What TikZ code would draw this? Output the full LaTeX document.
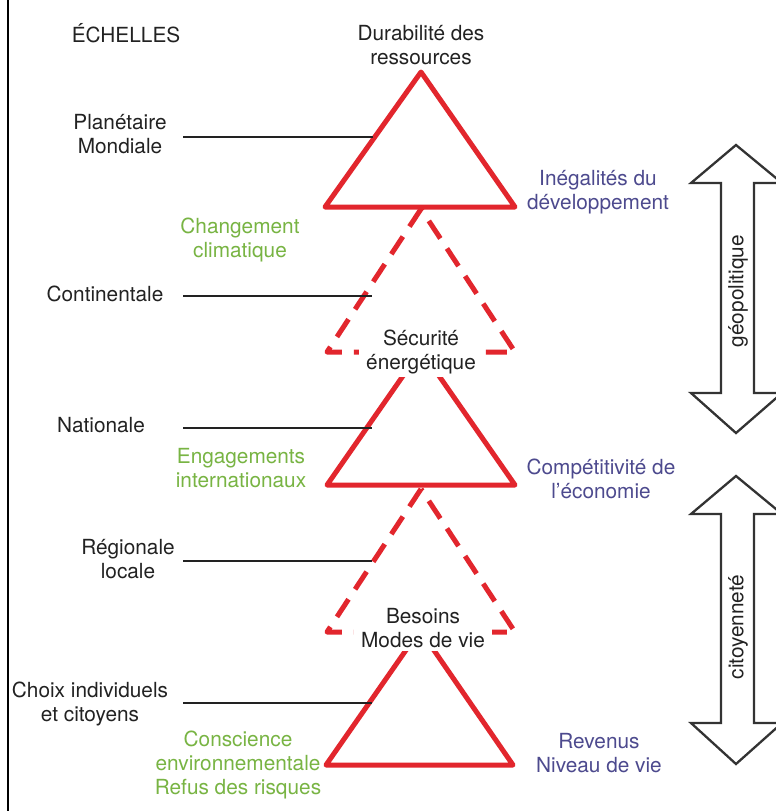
\documentclass[tikz,border=0pt]{standalone}
\usepackage{fontspec}
\setmainfont{TeX Gyre Heros}
\definecolor{tred}{HTML}{E2262D}
\definecolor{tgreen}{HTML}{78B443}
\definecolor{tpurple}{HTML}{4D4A8E}
\definecolor{txt}{HTML}{222222}
\definecolor{agray}{HTML}{333333}
\begin{document}
\begin{tikzpicture}[x=1pt,y=-1pt,
  lbl/.style={font=\fontsize{20.8}{24}\selectfont, align=center, inner sep=0pt, text=txt},
  glbl/.style={lbl, text=tgreen},
  plbl/.style={lbl, text=tpurple},
  cover/.style={lbl, fill=white, inner xsep=7pt, inner ysep=3pt},
  tri/.style={draw=tred, line width=5pt, line join=round},
  dtri/.style={tri, dash pattern=on 21pt off 12pt},
  conn/.style={draw=txt, line width=2pt},
  blk/.style={draw=agray, line width=2.3pt, fill=white, line join=miter}]
\useasboundingbox (0,0) rectangle (776,811);
\fill[white] (0,0) rectangle (776,811);
% left border
\draw[line width=2pt, black] (8,0) -- (8,811);

% triangles
\draw[tri] (421,72) -- (515,207) -- (325,207) -- cycle;
\draw[dtri] (421,209) -- (327,352) -- (515,352) -- cycle;
\draw[tri] (421,350) -- (515,485) -- (327,485) -- cycle;
\draw[dtri] (421,489) -- (327,632) -- (515,632) -- cycle;
\draw[tri] (420,630) -- (513,765) -- (326,765) -- cycle;

% top/middle labels
\node[lbl] (dur) at (421,45) {Durabilité des\\ressources};
\node[cover] (sec) at (421,352) {Sécurité\\énergétique};
\node[cover] (bes) at (423,628) {Besoins\\Modes de vie};

\node[lbl] (ech) at (126,33) {ÉCHELLES};

% scale labels and connectors
\node[lbl] (plan) at (120,134) {Planétaire\\Mondiale};
\node[lbl] (cont) at (105,294) {Continentale};
\node[lbl] (nat) at (101,425) {Nationale};
\node[lbl] (reg) at (128,559) {Régionale\\locale};
\node[lbl] (choix) at (90,704) {Choix individuels\\et citoyens};

\coordinate (p1) at (183,137); \coordinate (q1) at (373,137);
\coordinate (p2) at (183,296); \coordinate (q2) at (372,296);
\coordinate (p3) at (183,428); \coordinate (q3) at (372,428);
\coordinate (p4) at (183,561); \coordinate (q4) at (372,561);
\coordinate (p5) at (183,703); \coordinate (q5) at (372,703);
\draw[conn] (p1) -- (q1);
\draw[conn] (p2) -- (q2);
\draw[conn] (p3) -- (q3);
\draw[conn] (p4) -- (q4);
\draw[conn] (p5) -- (q5);

% green labels
\node[glbl] (clim) at (240,240) {Changement\\climatique};
\node[glbl] (eng) at (241,468) {Engagements\\internationaux};
\node[glbl] (cons) at (238,765) {Conscience\\environnementale\\Refus des risques};

% purple labels
\node[plbl] (ineg) at (598,192) {Inégalités du\\développement};
\node[plbl] (comp) at (601,479) {Compétitivité de\\l’économie};
\node[plbl] (rev) at (599,753) {Revenus\\Niveau de vie};

% block arrows
\draw[blk] (736,145) -- (782,183) -- (754,183) -- (754,393) -- (782,393) -- (736,433)
  -- (691,393) -- (721,393) -- (721,183) -- (691,183) -- cycle;
\node[lbl, rotate=90] (geo) at (738,291) {géopolitique};
\draw[blk] (736,476) -- (782,514) -- (754,514) -- (754,723) -- (782,723) -- (736,764)
  -- (691,723) -- (721,723) -- (721,514) -- (691,514) -- cycle;
\node[lbl, rotate=90] (cit) at (738,627) {citoyenneté};
\end{tikzpicture}
\end{document}
